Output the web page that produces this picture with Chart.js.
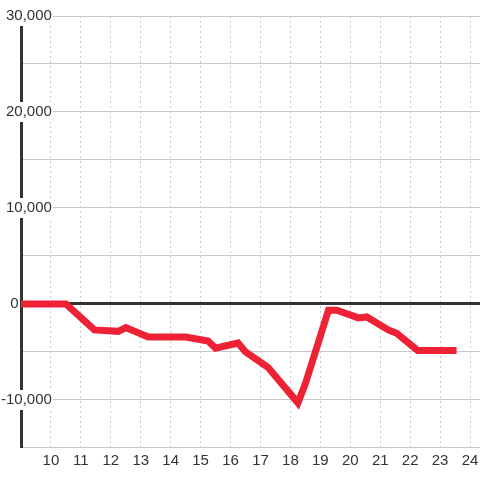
<!DOCTYPE html>
<html>
<head>
<meta charset="utf-8">
<script src="https://cdn.jsdelivr.net/npm/chart.js@4/dist/chart.umd.min.js"></script>
<style>
  html, body { margin: 0; padding: 0; background: #fff; }
  #wrap { width: 480px; height: 480px; position: relative; }
</style>
</head>
<body>
<div id="wrap"><canvas id="balance"></canvas></div>
<script>
// hour of day and running balance
const hours = [9, 10.5, 11.45, 12.25, 12.5, 13.25, 14.5, 15.25, 15.5, 16.25, 16.5, 17.25, 18.25, 18.5, 19.27, 19.55, 20.27, 20.55, 21.27, 21.55, 22.25, 23.55];
const balance = [0, 0, -2700, -2850, -2450, -3440, -3440, -3850, -4600, -4060, -5000, -6600, -10300, -8300, -650, -650, -1450, -1350, -2700, -3050, -4850, -4850];
const xTickLabels = [10, 11, 12, 13, 14, 15, 16, 17, 18, 19, 20, 21, 22, 23, 24];
const yTickLabels = [30000, 20000, 10000, 0, -10000];

const ctx = document.getElementById('balance').getContext('2d');
const font = { family: 'Liberation Sans', size: 15 };

new Chart(ctx, {
    type: 'line',
    data: {
        datasets: [{
            data: hours.map((h, i) => ({ x: h, y: balance[i] })),
            borderColor: '#ee2235',
            borderWidth: 7,
            pointRadius: 0,
            tension: 0,
            fill: false
        }]
    },
    options: {
        animation: false,
        responsive: true,
        maintainAspectRatio: false,
        layout: { padding: { left: 0, top: 16, right: 0, bottom: 7 } },
        plugins: { legend: { display: false }, tooltip: { enabled: false } },
        scales: {
            x: {
                type: 'linear',
                min: 9,
                max: 24.333,
                grid: {
                    color: ctx => xTickLabels.includes(ctx.tick.value) ? '#c8c8c8' : 'transparent',
                    drawTicks: false,
                    lineWidth: 1
                },
                border: { color: '#c8c8c8', width: 1, dash: [2, 3] },
                ticks: {
                    stepSize: 1,
                    includeBounds: false,
                    padding: 0,
                    color: '#333',
                    font: { family: 'Liberation Sans', size: 15, lineHeight: 1.667 },
                    maxRotation: 0,
                    autoSkip: false,
                    callback: v => xTickLabels.includes(v) ? String(v) : ''
                }
            },
            y: {
                min: -15000,
                max: 30000,
                afterFit: scale => { scale.width = 21; },
                grid: {
                    drawTicks: false,
                    color: ctx => ctx.tick.value === 0 ? '#333' : '#c8c8c8',
                    lineWidth: ctx => ctx.tick.value === 0 ? 3 : 1
                },
                border: { color: '#333', width: 3 },
                ticks: {
                    stepSize: 5000,
                    mirror: true,
                    crossAlign: 'far',
                    padding: -20,
                    z: 1,
                    color: '#333',
                    font: font,
                    autoSkip: false,
                    showLabelBackdrop: ctx => yTickLabels.includes(ctx.tick.value) && ctx.tick.value !== 0,
                    backdropColor: '#fff',
                    backdropPadding: { top: 1, bottom: 1, left: 2, right: 1 },
                    callback: v => {
                        if (v === 0) return '0' + ' '.repeat(8);
                        return yTickLabels.includes(v) ? v.toLocaleString('en-US') : '';
                    }
                }
            }
        }
    }
});
</script>
</body>
</html>
